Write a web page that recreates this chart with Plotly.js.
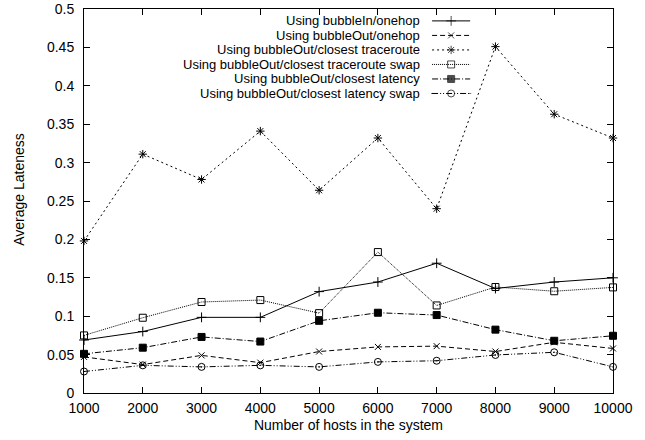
<!DOCTYPE html>
<html>
<head>
<meta charset="utf-8">
<script src="https://cdn.plot.ly/plotly-3.0.1.min.js"></script>
<style>html,body{margin:0;padding:0;background:#fff;}#chart{width:645px;height:440px;}</style>
</head>
<body>
<div id="chart"></div>
<script>
const hosts = [1000, 2000, 3000, 4000, 5000, 6000, 7000, 8000, 9000, 10000];
const bubbleInOnehop = [0.069, 0.080, 0.0985, 0.0985, 0.132, 0.1445, 0.169, 0.136, 0.1445, 0.150];
const bubbleOutOnehop = [0.047, 0.037, 0.049, 0.0395, 0.054, 0.060, 0.061, 0.054, 0.066, 0.058];
const closestTraceroute = [0.198, 0.311, 0.278, 0.341, 0.264, 0.332, 0.240, 0.451, 0.363, 0.332];
const closestTracerouteSwap = [0.075, 0.098, 0.1185, 0.121, 0.104, 0.1835, 0.114, 0.138, 0.1325, 0.1375];
const closestLatency = [0.051, 0.059, 0.073, 0.067, 0.094, 0.1045, 0.1015, 0.0825, 0.068, 0.0745];
const closestLatencySwap = [0.028, 0.036, 0.034, 0.036, 0.034, 0.0405, 0.042, 0.0495, 0.053, 0.034];

const seriesNames = [
  "Using bubbleIn/onehop",
  "Using bubbleOut/onehop",
  "Using bubbleOut/closest traceroute",
  "Using bubbleOut/closest traceroute swap",
  "Using bubbleOut/closest latency",
  "Using bubbleOut/closest latency swap"
];
const seriesValues = [bubbleInOnehop, bubbleOutOnehop, closestTraceroute, closestTracerouteSwap, closestLatency, closestLatencySwap];
const yTickVals = [0, 0.05, 0.1, 0.15, 0.2, 0.25, 0.3, 0.35, 0.4, 0.45, 0.5];
const yTickText = ["0", "0.05", "0.1", "0.15", "0.2", "0.25", "0.3", "0.35", "0.4", "0.45", "0.5"];
const xTickVals = hosts;
const xTickText = ["1000","2000","3000","4000","5000","6000","7000","8000","9000","10000"];

const FONT = "Liberation Sans, Arial, Helvetica, sans-serif";
const styles = [
  {dash: "solid", symbol: "cross-thin-open", size: 7},
  {dash: "5px,3px", symbol: "x-thin-open", size: 6},
  {dash: "2px,3px", symbol: "asterisk-open", size: 7},
  {dash: "1px,1px", symbol: "square-open", size: 7},
  {dash: "6px,2px,1px,2px", symbol: "square", size: 7},
  {dash: "6px,2px,1px,2px,1px,2px", symbol: "circle-open-dot", size: 7}
];

const traces = [];
seriesValues.forEach((vals, i) => {
  const s = styles[i];
  traces.push({
    x: hosts, y: vals, type: "scatter", mode: "lines+markers",
    name: seriesNames[i], showlegend: false, cliponaxis: false,
    line: {color: "#000", width: 1, dash: s.dash},
    marker: {symbol: s.symbol, size: s.size, color: "#000", line: {color: "#000", width: 1}}
  });
});

// custom legend (text right-aligned, sample on the right, gnuplot style)
const legTextX = 0.637, legX0 = 0.658, legX1 = 0.730, legTop = 0.969, legStep = 0.0378;
const annotations = [];
seriesNames.forEach((nm, i) => {
  const yy = legTop - i * legStep;
  const s = styles[i];
  annotations.push({xref: "paper", yref: "paper", x: legTextX, y: yy, xanchor: "right", yanchor: "middle",
    text: nm, showarrow: false, borderpad: 0, font: {family: FONT, size: 13, color: "#000"}});
  traces.push({
    x: [legX0, (legX0 + legX1) / 2, legX1], y: [yy, yy, yy], xaxis: "x2", yaxis: "y2",
    type: "scatter", mode: "lines+markers", showlegend: false, hoverinfo: "skip", cliponaxis: false,
    line: {color: "#000", width: 1, dash: s.dash},
    marker: {symbol: s.symbol, size: [0, s.size, 0], color: "#000", line: {color: "#000", width: [0, 1, 0]}}
  });
});

annotations.push({xref: "paper", yref: "paper", x: 0, y: 0.529, xshift: -65, xanchor: "center", yanchor: "middle",
  textangle: -90, text: "Average Lateness", showarrow: false,
  font: {family: FONT, size: 14, color: "#000"}});

const layout = {
  width: 645, height: 440,
  margin: {l: 84, r: 32, t: 9, b: 47},
  paper_bgcolor: "#fff", plot_bgcolor: "#fff",
  font: {family: FONT, size: 14, color: "#000"},
  showlegend: false,
  xaxis: {
    range: [1000, 10000], tickvals: xTickVals, ticktext: xTickText,
    ticks: "inside", ticklen: 6, tickcolor: "#000", tickwidth: 1,
    showline: true, linecolor: "#000", linewidth: 1, mirror: "allticks",
    showgrid: false, zeroline: false, ticklabelstandoff: 2,
    title: {text: "Number of hosts in the system", standoff: 5, font: {size: 14}}
  },
  yaxis: {
    range: [0, 0.5], tickvals: yTickVals, ticktext: yTickText,
    ticks: "inside", ticklen: 6, tickcolor: "#000", tickwidth: 1,
    showline: true, linecolor: "#000", linewidth: 1, mirror: "allticks",
    showgrid: false, zeroline: false, ticklabelstandoff: 6
  },
  xaxis2: {overlaying: "x", range: [0, 1], visible: false, fixedrange: true},
  yaxis2: {overlaying: "y", range: [0, 1], visible: false, fixedrange: true},
  annotations: annotations
};

Plotly.newPlot("chart", traces, layout, {displayModeBar: false, staticPlot: true});
</script>
</body>
</html>
